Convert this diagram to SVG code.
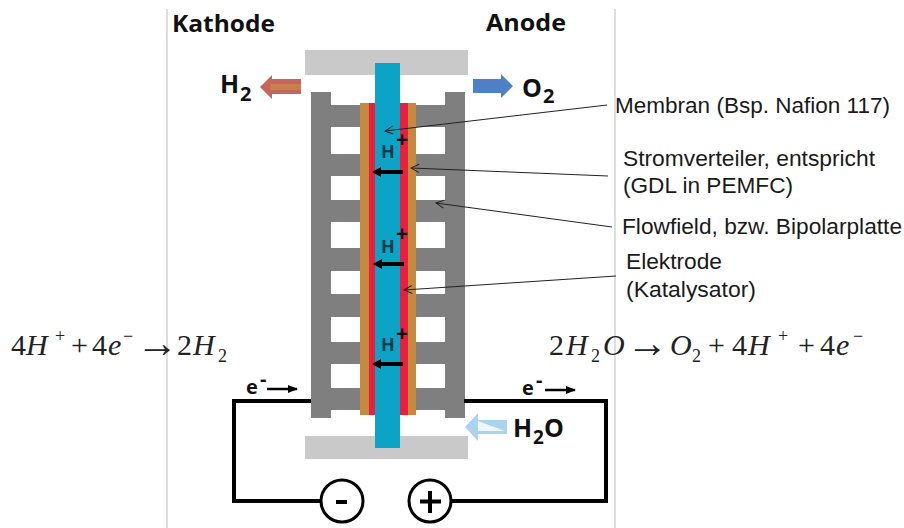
<svg xmlns="http://www.w3.org/2000/svg" width="904" height="528" viewBox="0 0 904 528">
<style>
.guide{stroke:#bdbdbd;stroke-width:1;fill:none}
.plate{fill:#c9c9c9}
.ff{fill:#7f7f7f}
.hole{fill:#fff}
.or{fill:#c58a3e}
.red{fill:#e8203f}
.mem{fill:#0ba3c6}
.wire{stroke:#000;stroke-width:4;fill:none}
.term{stroke:#000;stroke-width:3;fill:#fff}
.lead{stroke:#222;stroke-width:1;fill:none;marker-end:url(#open)}
.bar{stroke:#000;stroke-width:4;fill:none}
.el{stroke:#000;stroke-width:2.500;fill:none;marker-end:url(#solid)}
.b{font-family:"Open Sans","Liberation Sans",sans-serif;font-weight:700;fill:#111}
.hp{font-family:"Open Sans","Liberation Sans",sans-serif;font-weight:700;fill:#0c3a4a;font-size:18px}
.pl{font-family:"Open Sans","Liberation Sans",sans-serif;font-weight:700;fill:#111;font-size:21px}
.lab{font-family:"Liberation Sans",Arial,sans-serif;font-size:22px;fill:#1a1a1a}
.eq{font-family:"Liberation Serif","Times New Roman",serif;font-size:30px;fill:#222}
.i{font-style:italic}
.s{font-size:18px}
.ar{font-size:42px}
</style>
<defs>
<marker id="open" markerWidth="12" markerHeight="12" refX="11" refY="5" orient="auto" markerUnits="userSpaceOnUse" viewBox="0 0 12 10"><path d="M3 1 L11 5 L3 9" fill="none" stroke="#222" stroke-width="1"/></marker>
<marker id="solid" markerWidth="10" markerHeight="8" refX="9" refY="4" orient="auto" markerUnits="userSpaceOnUse" viewBox="0 0 10 8"><path d="M0 0 L10 4 L0 8 Z" fill="#000"/></marker>
</defs>
<rect width="904" height="528" fill="#fff"/>
<g id="guides">
<line class="guide" x1="167" y1="9" x2="167" y2="528"/>
<line class="guide" x1="615" y1="9" x2="615" y2="528"/>
</g>
<g id="top-plate"><rect class="plate" x="305" y="50" width="163" height="25"/></g>
<g id="bottom-plate"><rect class="plate" x="305" y="436" width="163" height="23"/></g>
<g id="flowfield">
<path class="ff" d="M311 92H331V105H445V92H465V418H445V410H331V418H311Z"/>
<rect class="hole" x="331" y="127" width="29" height="27"/>
<rect class="hole" x="331" y="176" width="29" height="24"/>
<rect class="hole" x="331" y="222" width="29" height="26"/>
<rect class="hole" x="331" y="271" width="29" height="23"/>
<rect class="hole" x="331" y="317" width="29" height="25"/>
<rect class="hole" x="331" y="364" width="29" height="24"/>
<rect class="hole" x="416" y="127" width="29" height="27"/>
<rect class="hole" x="416" y="176" width="29" height="24"/>
<rect class="hole" x="416" y="222" width="29" height="26"/>
<rect class="hole" x="416" y="271" width="29" height="23"/>
<rect class="hole" x="416" y="317" width="29" height="25"/>
<rect class="hole" x="416" y="364" width="29" height="24"/>
</g>
<g id="gdl">
<rect class="or" x="360" y="103" width="10" height="312"/>
<rect class="or" x="407" y="103" width="9" height="312"/>
</g>
<g id="electrode">
<rect class="red" x="369" y="103" width="8" height="312"/>
<rect class="red" x="400" y="103" width="8" height="312"/>
</g>
<g id="membrane"><rect class="mem" x="375" y="63" width="25" height="385"/></g>
<g id="connectors">
<path class="wire" d="M311 401H234V501H321"/>
<path class="wire" d="M464 401H606V501H451"/>
<line class="lead" x1="607" y1="105" x2="385" y2="131"/>
<line class="lead" x1="608" y1="176" x2="411" y2="168"/>
<line class="lead" x1="612" y1="227" x2="436" y2="203"/>
<line class="lead" x1="616" y1="276" x2="404" y2="290"/>
<line class="el" x1="267" y1="389" x2="297" y2="389"/>
<line class="el" x1="545" y1="390" x2="575" y2="390"/>
</g>
<g id="proton-1"><line class="bar" x1="403" y1="172" x2="378" y2="172"/><path d="M372 172L381 167V177Z"/><text class="hp" x="381" y="158">H</text><text class="pl" x="396" y="147">+</text></g>
<g id="proton-2"><line class="bar" x1="404" y1="264" x2="379" y2="264"/><path d="M373 264L382 259V269Z"/><text class="hp" x="381" y="253">H</text><text class="pl" x="396" y="241">+</text></g>
<g id="proton-3"><line class="bar" x1="403" y1="364" x2="378" y2="364"/><path d="M372 364L381 359V369Z"/><text class="hp" x="381" y="351">H</text><text class="pl" x="396" y="341">+</text></g>
<g id="h2-arrow"><path d="M260 87L272 75V79H301V94H272V99Z" fill="#c5655c"/><path d="M270 84H301V90H270Z" fill="#c98048"/></g>
<g id="o2-arrow"><path d="M473 79H501V74L513 86L501 98V93H473Z" fill="#4f7fc4"/></g>
<g id="h2o-arrow"><path d="M507 420H478V413L465 427L478 441V434H507Z" fill="#a9d3ee"/><path d="M478 421L505 431H478Z" fill="#eef7fc"/></g>
<g id="terminal-minus"><circle class="term" cx="342" cy="501" r="21"/><rect x="336" y="500" width="11" height="4"/></g>
<g id="terminal-plus"><circle class="term" cx="430" cy="501" r="21"/><path d="M428 491H432V499.500H441V503.500H432V513H428V503.500H420V499.500H428Z"/></g>
<g id="titles">
<text class="b" x="172" y="32" font-size="24" textLength="103" lengthAdjust="spacingAndGlyphs">Kathode</text>
<text class="b" x="486" y="31" font-size="24" textLength="80" lengthAdjust="spacingAndGlyphs">Anode</text>
<text class="b" x="220" y="93" font-size="25">H</text><text class="b" x="240" y="101" font-size="20">2</text>
<text class="b" x="522" y="97" font-size="25">O</text><text class="b" x="543" y="103" font-size="20">2</text>
<text class="b" x="513" y="437" font-size="25">H</text><text class="b" x="533" y="444" font-size="19">2</text><text class="b" x="544" y="437" font-size="25">O</text>
<text class="b" x="246" y="394" font-size="20">e</text><text class="b" x="260" y="386" font-size="20">-</text>
<text class="b" x="522" y="395" font-size="20">e</text><text class="b" x="536" y="387" font-size="20">-</text>
</g>
<g id="labels">
<text class="lab" x="615" y="113" textLength="275" lengthAdjust="spacingAndGlyphs">Membran (Bsp. Nafion 117)</text>
<text class="lab" x="623" y="166" textLength="252" lengthAdjust="spacingAndGlyphs">Stromverteiler, entspricht</text>
<text class="lab" x="623" y="193" textLength="170" lengthAdjust="spacingAndGlyphs">(GDL in PEMFC)</text>
<text class="lab" x="622" y="234" textLength="280" lengthAdjust="spacingAndGlyphs">Flowfield, bzw. Bipolarplatte</text>
<text class="lab" x="626" y="269" textLength="96" lengthAdjust="spacingAndGlyphs">Elektrode</text>
<text class="lab" x="626" y="297" textLength="130" lengthAdjust="spacingAndGlyphs">(Katalysator)</text>
</g>
<g id="equation-left">
<text class="eq" x="11" y="355">4</text><text class="eq i" x="26" y="355">H</text><text class="eq s" x="55" y="342">+</text>
<text class="eq" x="71" y="355">+</text><text class="eq" x="92" y="355">4</text><text class="eq i" x="108" y="355">e</text><text class="eq s" x="123" y="342">−</text>
<text class="eq ar" x="136" y="357">→</text>
<text class="eq" x="177" y="355">2</text><text class="eq i" x="193" y="355">H</text><text class="eq s" x="218" y="362">2</text>
</g>
<g id="equation-right">
<text class="eq" x="549" y="355">2</text><text class="eq i" x="566" y="355">H</text><text class="eq s" x="591" y="362">2</text><text class="eq i" x="603" y="355">O</text>
<text class="eq ar" x="626" y="357">→</text>
<text class="eq i" x="670" y="355">O</text><text class="eq s" x="692" y="362">2</text>
<text class="eq" x="708" y="355">+</text><text class="eq" x="732" y="355">4</text><text class="eq i" x="748" y="355">H</text><text class="eq s" x="778" y="342">+</text>
<text class="eq" x="798" y="355">+</text><text class="eq" x="820" y="355">4</text><text class="eq i" x="836" y="355">e</text><text class="eq s" x="853" y="342">−</text>
</g>
</svg>
